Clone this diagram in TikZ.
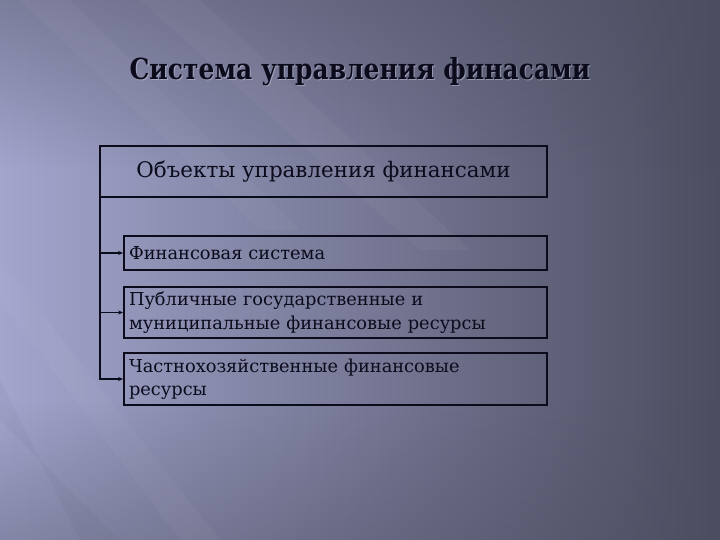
\documentclass[tikz,border=0pt]{standalone}
\usepackage{fontspec}
\setmainfont{DejaVu Serif}
\usetikzlibrary{arrows.meta,fadings}
\definecolor{bgL}{HTML}{A3A5CD}
\definecolor{bgM}{HTML}{6C6E8C}
\definecolor{bgR}{HTML}{4B4D60}
\definecolor{ink}{HTML}{0B0B1C}
\definecolor{glow}{HTML}{C9CBE2}
\tikzset{
  box/.style={draw=ink, line width=1.8pt, minimum height=#1, inner sep=0pt},
  itembox/.style={box=#1, minimum width=423pt, text width=413pt, align=left,
     font=\fontsize{17.8}{23.5}\selectfont, text=ink},
  conn/.style={draw=ink, line width=1.4pt, -{Stealth[length=5pt,width=4pt]}},
  shadowtxt/.style={text=glow, opacity=0.5},
  titletxt/.style={anchor=base, font=\bfseries\fontsize{29}{34}\selectfont},
  streak/.style={fill=white, fill opacity=#1},
}
\newcommand{\titletext}{\scalebox{0.86}[1]{Система управления финасами}}
\begin{document}
\begin{tikzpicture}[x=1pt,y=-1pt]
\useasboundingbox (0,0) rectangle (720,540);
% background
\shade[left color=bgL, middle color=bgM, right color=bgR] (0,0) rectangle (720,540);
\fill[bgR, fill opacity=0.45, path fading=south] (0,0) rectangle (720,170);
\fill[bgR, fill opacity=0.35, path fading=north] (0,400) rectangle (720,540);
\fill[streak=0.035] (140,0) -- (200,0) -- (470,250) -- (420,250) -- cycle;
\fill[streak=0.03] (0,300) -- (0,260) -- (220,540) -- (180,540) -- cycle;
\fill[streak=0.03] (20,0) -- (70,0) -- (300,230) -- (260,230) -- cycle;
\fill[bgR, fill opacity=0.06] (0,380) -- (0,420) -- (120,540) -- (80,540) -- cycle;
% title
\node[shadowtxt, titletxt] (titleglow) at (361,81) {\titletext};
\node[text=ink, titletxt] (title) at (360,80) {\titletext};
% boxes
\node[box=51pt, minimum width=447pt, font=\fontsize{21.4}{28}\selectfont, text=ink] (top) at (323.5,171.5) {Объекты управления финансами};
\node[itembox=34pt] (b2) at (335.5,253) {Финансовая система};
\node[itembox=51pt] (b3) at (335.5,312.5) {Публичные государственные и\\муниципальные финансовые ресурсы};
\node[itembox=52pt] (b4) at (335.5,379) {Частнохозяйственные финансовые\\ресурсы};
% connectors
\draw[conn] ([xshift=1pt]top.south west) |- (b2.west);
\draw[conn] ([xshift=1pt]top.south west) |- (b3.west);
\draw[conn] ([xshift=1pt]top.south west) |- (b4.west);
\end{tikzpicture}
\end{document}
